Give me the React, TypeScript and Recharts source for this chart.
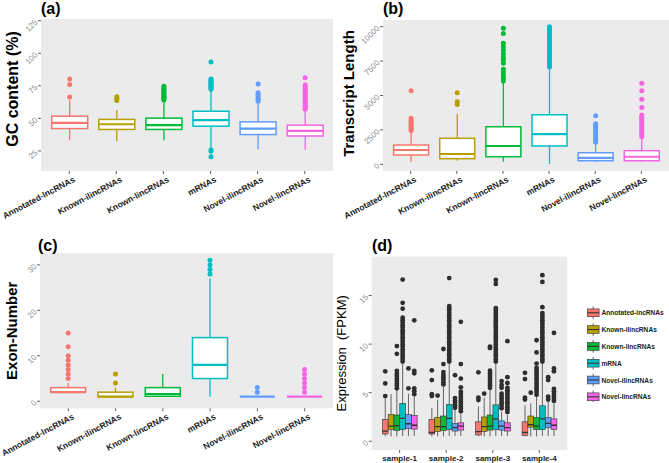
import React from 'react';
import { BarChart, Bar, XAxis, YAxis, CartesianGrid } from 'recharts';

const FONT = '"Liberation Sans", Arial, Helvetica, sans-serif';
const PANEL_BG = '#EBEBEB';
const hueColors = ['#F8766D', '#B79F00', '#00BA38', '#00BFC4', '#619CFF', '#F564E3'];

const transcriptTypes = ['Annotated-lncRNAs', 'Known-ilincRNAs', 'Known-lincRNAs', 'mRNAs', 'Novel-ilincRNAs', 'Novel-lincRNAs'];

// (a) GC content
const gcTicks = [25, 50, 75, 100, 125];
const gcLow = [33.2, 32.5, 33.2, 27, 26.3, 26];
const gcQ1 = [42.2, 41.5, 41.5, 44, 37.6, 36.5];
const gcMedian = [46.5, 45.5, 44.8, 48.6, 42.2, 40.4];
const gcQ3 = [51.7, 49.2, 50.2, 55.5, 47.3, 44.8];
const gcHigh = [64, 56.3, 63.5, 71.5, 62.4, 56];
const gcOutliers = [
  [66.5, 76, 80.2],
  [63.8, 65.1, 66.6],
  [64.2, 65.1, 65.9, 66.8, 67.9, 68.7, 69.8, 70.6, 71.5, 72.6, 73.4, 74.6],
  [72.3, 73.1, 73.9, 74.6, 75.4, 76.2, 76.9, 77.8, 78.6, 79.5, 80.2, 93.2, 25.8, 24.7, 20.6],
  [63.1, 64.6, 65.8, 67.2, 68.4, 69.6, 76.3],
  [57.1, 58.2, 59.4, 60.3, 61.5, 62.6, 63.4, 64.7, 65.8, 66.9, 67.8, 69.1, 70.2, 71.3, 72.1, 73.4, 74.5, 75.6, 81.2],
];

// (b) Transcript length
const tlTicks = [0, 2500, 5000, 7500, 10000];
const tlLow = [190, 260, 190, 30, 190, 190];
const tlQ1 = [676, 407, 550, 1330, 260, 260];
const tlMedian = [1040, 750, 1330, 2200, 460, 550];
const tlQ3 = [1400, 1890, 2730, 3600, 840, 990];
const tlHigh = [2350, 3650, 6000, 7000, 1500, 1890];
const tlOutliers = [
  [2450, 2580, 2700, 2820, 2950, 3080, 3200, 3350, 5350],
  [4350, 4550, 5200],
  [6050, 6250, 6450, 6700, 6900, 7350, 7600, 7800, 8050, 8300, 8550, 8800, 9500, 9880],
  [7080, 7260, 7450, 7630, 7820, 8010, 8190, 8380, 8560, 8750, 8930, 9120, 9300, 9490, 9670, 9840, 9990],
  [1600, 1750, 1900, 2050, 2200, 2350, 2500, 2650, 2800, 2950, 3530],
  [2010, 2150, 2290, 2430, 2580, 2720, 2860, 3000, 3150, 3290, 3430, 3580, 4120, 4720, 5350, 5890],
];

// (c) Exon number
const exTicks = [0, 10, 20, 30];
const exLow = [2, 1, 1, 1, 1, 1];
const exQ1 = [2, 1, 1.1, 5, 1, 1];
const exMedian = [2, 1, 1.6, 8, 1, 1];
const exQ3 = [3, 2, 3, 14, 1, 1];
const exHigh = [4, 3, 6, 27, 1, 1];
const exOutliers = [
  [5, 6, 7, 8, 9, 10, 12, 15],
  [4, 6],
  [],
  [28, 29, 30, 31],
  [2, 3],
  [2, 3, 4, 5, 6, 7],
];

// (d) Expression (FPKM): box = [low, q1, median, q3, high] per sample
const samples = ['sample-1', 'sample-2', 'sample-3', 'sample-4'];
const exprSeries = ['Annotated-lncRNAs', 'Known-ilincRNAs', 'Known-lincRNAs', 'mRNA', 'Novel-ilincRNAs', 'Novel-lincRNAs'];
const exprTicks = [0, 5, 10, 15];

const exprAnnotatedBox = [[0.5, 0.75, 1.05, 2.25, 4.4], [0.5, 0.75, 0.9, 2.25, 3.4], [0.5, 0.65, 1.0, 2.0, 3.6], [0.5, 0.6, 0.9, 2.0, 3.7]];
const exprAnnotatedOut = [[4.65, 5.95, 7.2], [4.65, 4.85, 6.3, 7.3], [4.25, 4.5, 7.1], [4.3, 4.5, 6.4, 7.05]];

const exprKnownIlBox = [[0.5, 1.2, 1.55, 2.75, 4.85], [0.5, 1.0, 1.5, 2.45, 4.3], [0.5, 1.0, 1.5, 2.5, 4.5], [0.5, 1.45, 1.7, 2.6, 3.9]];
const exprKnownIlOut = [[], [4.7], [4.9], [5.0]];

const exprKnownLBox = [[0.5, 1.1, 1.6, 2.7, 5.3], [0.5, 1.1, 1.5, 2.6, 5.6], [0.5, 1.15, 1.55, 2.7, 5.3], [0.5, 1.2, 1.55, 2.45, 4.6]];
const exprKnownLOut = [
  [5.45, 5.72, 5.93, 6.21, 6.44, 6.72, 6.96, 7.25, 9.0, 9.8],
  [5.85, 6.08, 6.37, 6.6, 6.83, 7.12, 7.95, 9.5],
  [5.5, 5.76, 6.02, 6.23, 6.51, 6.74, 7.0, 7.26, 9.6, 9.75],
  [4.8, 5.06, 5.31, 5.53, 5.8, 6.04, 6.32, 6.55, 6.81, 7.06, 7.3, 7.55, 8.0, 9.15, 10.4],
];

const exprMrnaBox = [[0.55, 1.2, 2.35, 3.9, 8.0], [0.55, 1.2, 2.35, 3.8, 8.0], [0.55, 1.2, 2.3, 3.75, 8.0], [0.55, 1.2, 2.3, 3.65, 8.0]];
const exprMrnaOut = [
  [8.2, 8.46, 8.71, 8.93, 9.2, 9.44, 9.72, 9.95, 10.21, 10.43, 10.7, 10.96, 11.2, 11.44, 11.71, 11.95, 12.2, 12.46, 12.72, 13.65, 14.25, 16.65],
  [8.2, 8.44, 8.7, 8.96, 9.21, 9.45, 9.7, 9.97, 10.2, 10.46, 10.71, 10.95, 11.22, 11.46, 11.7, 11.94, 12.21, 12.45, 12.7, 12.96, 13.2, 13.45, 13.7, 13.92, 16.8],
  [8.2, 8.45, 8.72, 8.94, 9.2, 9.46, 9.7, 9.95, 10.22, 10.45, 10.7, 10.97, 11.2, 11.45, 11.72, 11.95, 12.2, 12.44, 12.7, 12.96, 13.2, 13.45, 13.7, 16.2, 16.6],
  [8.2, 8.45, 8.7, 8.96, 9.22, 9.45, 9.71, 9.95, 10.2, 10.46, 10.7, 10.95, 11.21, 11.45, 11.7, 11.96, 12.2, 12.45, 12.7, 12.95, 13.2, 13.8, 16.4, 17.1],
];

const exprNovelIlBox = [[0.55, 1.3, 1.8, 2.75, 4.9], [0.55, 1.05, 1.4, 1.85, 3.2], [0.55, 1.15, 1.55, 2.1, 3.05], [0.55, 1.4, 1.85, 2.45, 4.05]];
const exprNovelIlOut = [[5.45, 7.5], [3.45, 3.7, 3.96, 4.2, 4.45, 6.8], [3.4, 3.66, 3.9, 4.15, 4.42, 4.65, 4.9, 5.5, 5.8, 6.2], [4.3, 4.6, 6.3, 6.6]];

const exprNovelLBox = [[0.55, 1.25, 1.65, 2.65, 4.6], [0.55, 1.15, 1.55, 1.9, 2.9], [0.55, 1.05, 1.4, 1.9, 2.7], [0.55, 1.2, 1.65, 2.3, 3.9]];
const exprNovelLOut = [
  [4.85, 5.15, 5.45, 7.0, 7.25, 12.45],
  [3.1, 3.35, 3.61, 3.85, 4.1, 4.36, 4.6, 4.86, 5.1, 5.55, 6.45, 7.95, 12.3],
  [3.0, 3.26, 3.5, 3.75, 4.01, 4.25, 4.5, 4.76, 5.0, 5.25, 5.5, 6.0, 6.6, 10.3],
  [4.15, 4.4, 4.66, 4.9, 5.15, 5.4, 7.2, 7.5, 11.15],
];

const exprBoxes = [exprAnnotatedBox, exprKnownIlBox, exprKnownLBox, exprMrnaBox, exprNovelIlBox, exprNovelLBox];
const exprOutliers = [exprAnnotatedOut, exprKnownIlOut, exprKnownLOut, exprMrnaOut, exprNovelIlOut, exprNovelLOut];

type Stats = { lo: number; q1: number; med: number; q3: number; hi: number; out: number[] };

function buildRows(cats: string[], lo: number[], q1: number[], med: number[], q3: number[], hi: number[], out: number[][]) {
  return cats.map((c, i) => ({ cat: c, stats: { lo: lo[i], q1: q1[i], med: med[i], q3: q3[i], hi: hi[i], out: out[i] } as Stats }));
}

const gcRows = buildRows(transcriptTypes, gcLow, gcQ1, gcMedian, gcQ3, gcHigh, gcOutliers);
const tlRows = buildRows(transcriptTypes, tlLow, tlQ1, tlMedian, tlQ3, tlHigh, tlOutliers);
const exRows = buildRows(transcriptTypes, exLow, exQ1, exMedian, exQ3, exHigh, exOutliers);

const exprRows = samples.map((s, j) => {
  const row: any = { sample: s };
  exprSeries.forEach((_, k) => {
    const b = exprBoxes[k][j];
    row['s' + k] = { lo: b[0], q1: b[1], med: b[2], q3: b[3], hi: b[4], out: exprOutliers[k][j] } as Stats;
  });
  return row;
});

function extentOf(s: Stats): [number, number] {
  const vals = [s.lo, s.q1, s.med, s.q3, s.hi, ...s.out];
  const a = Math.min(...vals);
  const b = Math.max(...vals);
  return [a, b === a ? a + 1e-6 : b];
}

function makeBoxShape(get: (p: any) => Stats, colorFor: (idx: number) => string, filled: boolean) {
  return (props: any) => {
    const { x, y, width, height, payload, index } = props;
    const s = get(payload);
    if (!s) return <g />;
    const [vmin, vmax] = extentOf(s);
    const top = Math.min(y, y + height);
    const bot = Math.max(y, y + height);
    const py = (v: number) => bot - ((v - vmin) / (vmax - vmin)) * (bot - top);
    const cx = x + width / 2;
    const c = colorFor(index);
    const lineC = filled ? '#555555' : c;
    const boxStroke = filled ? '#333333' : c;
    return (
      <g>
        <line x1={cx} x2={cx} y1={py(s.hi)} y2={py(s.q3)} stroke={lineC} strokeWidth={filled ? 0.9 : 1.3} />
        <line x1={cx} x2={cx} y1={py(s.q1)} y2={py(s.lo)} stroke={lineC} strokeWidth={filled ? 0.9 : 1.3} />
        <rect x={x} y={py(s.q3)} width={width} height={Math.max(0, py(s.q1) - py(s.q3))}
          fill={filled ? c : '#FFFFFF'} stroke={boxStroke} strokeWidth={filled ? 0.6 : 1.5} />
        <line x1={x} x2={x + width} y1={py(s.med)} y2={py(s.med)} stroke={boxStroke} strokeWidth={filled ? 1.3 : 2.2} />
        {s.out.map((v, i) => (
          <circle key={i} cx={cx} cy={py(v)} r={filled ? 2.4 : 2.5} fill={filled ? '#2E2E2E' : c} />
        ))}
      </g>
    );
  };
}

const YTick = (props: any) => {
  const { x, y, payload } = props;
  return (
    <text x={x} y={y} dy={3} transform={`rotate(-45 ${x} ${y})`} textAnchor="end" fontSize={8}
      fill="#8C8C8C" fontFamily={FONT}>
      {payload.value}
    </text>
  );
};

const XTickRot = (props: any) => {
  const { x, y, payload } = props;
  return (
    <g transform={`translate(${x + 3.5},${y})`}>
      <text x={0} y={0} dy={6} transform="rotate(-28)" textAnchor="end" fontSize={8.5} fontWeight="bold"
        fill="#1A1A1A" fontFamily={FONT}>
        {payload.value}
      </text>
    </g>
  );
};

const XTickFlat = (props: any) => {
  const { x, y, payload } = props;
  return (
    <text x={x} y={y} dy={6} textAnchor="middle" fontSize={8} fontWeight="bold" fill="#1A1A1A" fontFamily={FONT}>
      {payload.value}
    </text>
  );
};

function axisTitle(text: string, xFromLeft: number, dyShift: number, size: number, bold: boolean) {
  return {
    content: (p: any) => {
      const vb = p.viewBox || { x: 0, y: 0, width: 0, height: 0 };
      const tx = vb.x + xFromLeft;
      const ty = vb.y + vb.height / 2 + dyShift;
      return (
        <text x={tx} y={ty} transform={`rotate(-90 ${tx} ${ty})`} textAnchor="middle" dominantBaseline="central"
          fontSize={size} fontWeight={bold ? 'bold' : 'normal'} fill="#000" fontFamily={FONT}
          style={{ whiteSpace: 'pre' }}>
          {text}
        </text>
      );
    },
  };
}

const gcShape = makeBoxShape((p) => p.stats, (i) => hueColors[i], false);
const tlShape = makeBoxShape((p) => p.stats, (i) => hueColors[i], false);
const exShape = makeBoxShape((p) => p.stats, (i) => hueColors[i], false);

const panelTitleStyle = (left: number, top: number): React.CSSProperties => ({
  position: 'absolute', left, top, fontFamily: FONT, fontWeight: 'bold', fontSize: 16, lineHeight: '16px', color: '#000',
});

const tickLine = { stroke: '#333333', strokeWidth: 0.8 };

export default function App() {
  return (
    <div style={{ position: 'absolute', left: 0, top: 0, width: 669, height: 463, background: '#FFFFFF', overflow: 'hidden' }}>
      {/* (a) */}
      <div style={{ position: 'absolute', left: 0, top: 0 }}>
        <BarChart width={335} height={230} data={gcRows} margin={{ top: 19, right: 2, bottom: 0, left: 0 }}>
          <CartesianGrid fill={PANEL_BG} stroke="none" horizontal={false} vertical={false} />
          <XAxis dataKey="cat" type="category" height={59} interval={0} tick={<XTickRot />} tickSize={3}
            tickLine={tickLine} axisLine={false} padding={{ left: 4.7, right: 4.7 }} />
          <YAxis type="number" domain={[9.6, 126.3]} ticks={gcTicks} allowDataOverflow width={41} interval={0}
            tick={<YTick />} tickSize={3} tickLine={tickLine} axisLine={false}
            label={axisTitle('GC content (%)', 12, -6, 16, true)} />
          <Bar dataKey={(d: any) => extentOf(d.stats)} barSize={36} shape={gcShape} isAnimationActive={false} />
        </BarChart>
        <div style={panelTitleStyle(41, 1)}>(a)</div>
      </div>

      {/* (b) */}
      <div style={{ position: 'absolute', left: 335, top: 0 }}>
        <BarChart width={334} height={230} data={tlRows} margin={{ top: 20, right: 0, bottom: 0, left: 0 }}>
          <CartesianGrid fill={PANEL_BG} stroke="none" horizontal={false} vertical={false} />
          <XAxis dataKey="cat" type="category" height={59} interval={0} tick={<XTickRot />} tickSize={3}
            tickLine={tickLine} axisLine={false} padding={{ left: 4.6, right: 4.6 }} />
          <YAxis type="number" domain={[-487, 10487]} ticks={tlTicks} allowDataOverflow width={48} interval={0}
            tick={<YTick />} tickSize={3} tickLine={tickLine} axisLine={false}
            label={axisTitle('Transcript Length', 13, -2, 15, true)} />
          <Bar dataKey={(d: any) => extentOf(d.stats)} barSize={35} shape={tlShape} isAnimationActive={false} />
        </BarChart>
        <div style={panelTitleStyle(48, 1)}>(b)</div>
      </div>

      {/* (c) */}
      <div style={{ position: 'absolute', left: 0, top: 230 }}>
        <BarChart width={335} height={233} data={exRows} margin={{ top: 23.3, right: 2, bottom: 0, left: 0 }}>
          <CartesianGrid fill={PANEL_BG} stroke="none" horizontal={false} vertical={false} />
          <XAxis dataKey="cat" type="category" height={54.7} interval={0} tick={<XTickRot />} tickSize={3}
            tickLine={tickLine} axisLine={false} padding={{ left: 4.7, right: 4.7 }} />
          <YAxis type="number" domain={[-1.55, 32.55]} ticks={exTicks} allowDataOverflow width={40} interval={0}
            tick={<YTick />} tickSize={3} tickLine={tickLine} axisLine={false}
            label={axisTitle('Exon-Number', 12, 0, 15, true)} />
          <Bar dataKey={(d: any) => extentOf(d.stats)} barSize={35} shape={exShape} isAnimationActive={false} />
        </BarChart>
        <div style={panelTitleStyle(38, 8)}>(c)</div>
      </div>

      {/* (d) */}
      <div style={{ position: 'absolute', left: 335, top: 230 }}>
        <BarChart width={334} height={233} data={exprRows} margin={{ top: 26.7, right: 101.7, bottom: 0, left: 0 }}
          barGap={0}>
          <CartesianGrid fill={PANEL_BG} stroke="none" horizontal={false} vertical={false} />
          <XAxis dataKey="sample" type="category" height={13} interval={0} tick={<XTickFlat />} tickSize={3}
            tickLine={tickLine} axisLine={false} padding={{ left: 4.66, right: 4.66 }} />
          <YAxis type="number" domain={[-0.9, 19]} ticks={exprTicks} allowDataOverflow width={36.7} interval={0}
            tick={<YTick />} tickSize={3} tickLine={tickLine} axisLine={false}
            label={axisTitle('Expression  (FPKM)', 7, 0, 13, false)} />
          {exprSeries.map((name, k) => (
            <Bar key={name} name={name} dataKey={(d: any) => extentOf(d['s' + k])} barSize={5.8} fill={hueColors[k]}
              shape={makeBoxShape((p) => p['s' + k], () => hueColors[k], true)} isAnimationActive={false} />
          ))}
        </BarChart>
        <div style={panelTitleStyle(37, 8)}>(d)</div>
        <svg style={{ position: 'absolute', left: 248, top: 72 }} width={86} height={100}>
          {exprSeries.map((name, k) => {
            const cy = 10.8 + k * 16.8;
            return (
              <g key={name}>
                <line x1={10.2} x2={10.2} y1={cy - 6.3} y2={cy + 6.3} stroke="#555555" strokeWidth={0.9} />
                <rect x={4.3} y={cy - 3.9} width={11.8} height={7.8} fill={hueColors[k]} stroke="#333333" strokeWidth={0.6} />
                <line x1={4.3} x2={16.1} y1={cy} y2={cy} stroke="#333333" strokeWidth={1.1} />
                <text x={18.5} y={cy} dominantBaseline="central" fontSize={6.6} fontWeight="bold" fill="#1A1A1A"
                  fontFamily={FONT}>
                  {name}
                </text>
              </g>
            );
          })}
        </svg>
      </div>
    </div>
  );
}
